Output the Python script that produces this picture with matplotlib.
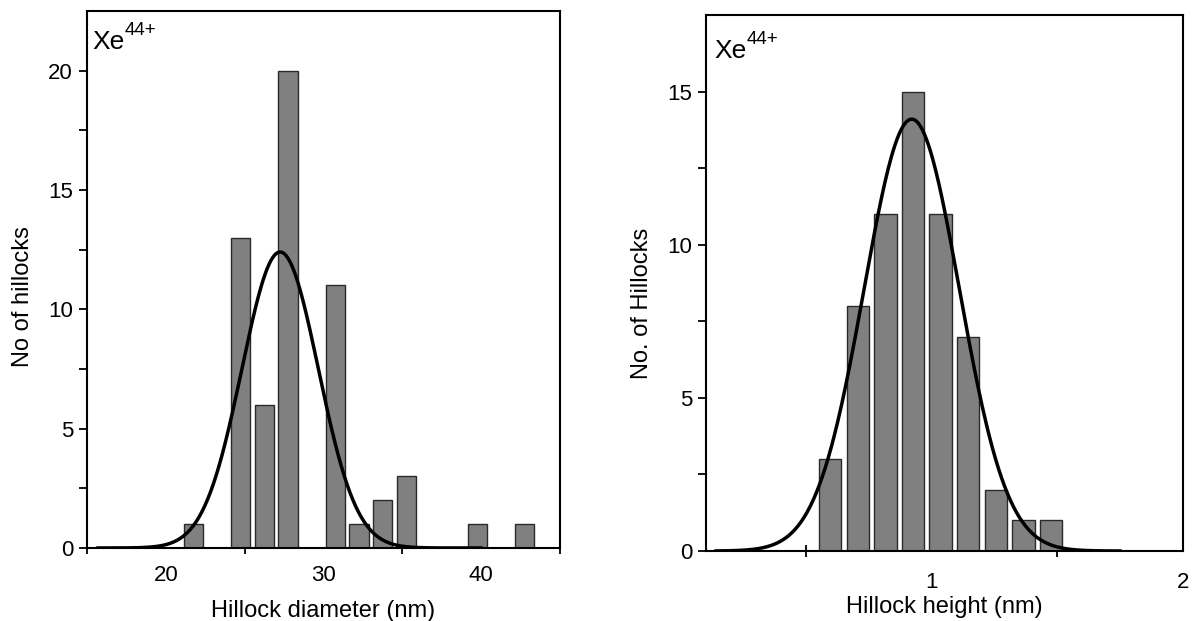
import numpy as np
import matplotlib
matplotlib.use("Agg")
import matplotlib.pyplot as plt
from matplotlib.ticker import FixedLocator

plt.rcParams['font.family'] = ['Liberation Sans', 'DejaVu Sans']

# ---- Left panel data: hillock diameter histogram ----
diam_centers = [21.75, 23.25, 24.75, 26.25, 27.75, 29.25, 30.75, 32.25,
                33.75, 35.25, 36.75, 38.25, 39.75, 41.25, 42.75]
diam_counts = [1, 0, 13, 6, 20, 0, 11, 1, 2, 3, 0, 0, 1, 0, 1]
diam_fit = {"mu": 27.25, "sigma": 2.42, "amp": 12.4, "x0": 15.7, "x1": 40.0}

# ---- Right panel data: hillock height histogram ----
height_centers = [0.595, 0.705, 0.815, 0.925, 1.035, 1.145, 1.255, 1.365, 1.475]
height_counts = [3, 8, 11, 15, 11, 7, 2, 1, 1]
height_fit = {"mu": 0.92, "sigma": 0.19, "amp": 14.1, "x0": 0.14, "x1": 1.75}

bar_color = "#808080"
edge_color = "#2a2a2a"

fig = plt.figure(figsize=(11.95, 6.21), dpi=100)
axL = fig.add_axes([0.0728, 0.1176, 0.3958, 0.8647])
axR = fig.add_axes([0.5908, 0.1127, 0.3989, 0.8631])


def gauss(fit):
    x = np.linspace(fit["x0"], fit["x1"], 400)
    return x, fit["amp"] * np.exp(-0.5 * ((x - fit["mu"]) / fit["sigma"]) ** 2)


def style(ax):
    for s in ax.spines.values():
        s.set_linewidth(1.5)
        s.set_color("black")
    ax.tick_params(axis='both', which='both', labelsize=16, colors='black')
    ax.tick_params(axis='x', which='major', length=0, pad=12)
    ax.tick_params(axis='x', which='minor', direction='inout', length=9, width=1.3)
    ax.tick_params(axis='y', which='both', direction='out', length=6, width=1.3, pad=4)
    ax.tick_params(axis='y', which='minor', labelleft=False)


def xe_label(ax, x, y):
    t = ax.text(x, y, "Xe", transform=ax.transAxes, fontsize=19,
                ha='left', va='top')
    ax.annotate("44+", xy=(1.0, 0.62), xycoords=t, fontsize=13.5,
                ha='left', va='bottom')


# Left
axL.bar(diam_centers, diam_counts, width=1.22, color=bar_color,
        edgecolor=edge_color, linewidth=1.0, zorder=2)
gx, gy = gauss(diam_fit)
axL.plot(gx, gy, color='black', lw=2.5, zorder=3)
axL.set_xlim(15, 45)
axL.set_ylim(0, 22.5)
axL.xaxis.set_major_locator(FixedLocator([20, 30, 40]))
axL.xaxis.set_minor_locator(FixedLocator([15, 25, 35, 45]))
axL.yaxis.set_major_locator(FixedLocator([0, 5, 10, 15, 20]))
axL.yaxis.set_minor_locator(FixedLocator([2.5, 7.5, 12.5, 17.5]))
style(axL)
axL.set_xlabel("Hillock diameter (nm)", fontsize=17, labelpad=10)
axL.set_ylabel("No of hillocks", fontsize=17)
axL.yaxis.set_label_coords(-0.113, 0.469)
xe_label(axL, 0.012, 0.965)

# Right
axR.bar(height_centers, height_counts, width=0.089, color=bar_color,
        edgecolor=edge_color, linewidth=1.0, zorder=2)
gx, gy = gauss(height_fit)
axR.plot(gx, gy, color='black', lw=2.5, zorder=3)
axR.set_xlim(0.1, 2.0)
axR.set_ylim(0, 17.5)
axR.xaxis.set_major_locator(FixedLocator([1, 2]))
axR.xaxis.set_minor_locator(FixedLocator([0.5, 1.5]))
axR.yaxis.set_major_locator(FixedLocator([0, 5, 10, 15]))
axR.yaxis.set_minor_locator(FixedLocator([2.5, 7.5, 12.5]))
style(axR)
axR.tick_params(axis='x', which='major', pad=15)
axR.set_xlabel("Hillock height (nm)", fontsize=17, labelpad=2)
axR.set_ylabel("No. of Hillocks", fontsize=17)
axR.yaxis.set_label_coords(-0.112, 0.462)
xe_label(axR, 0.018, 0.955)

fig.savefig("out.png", dpi=100)
